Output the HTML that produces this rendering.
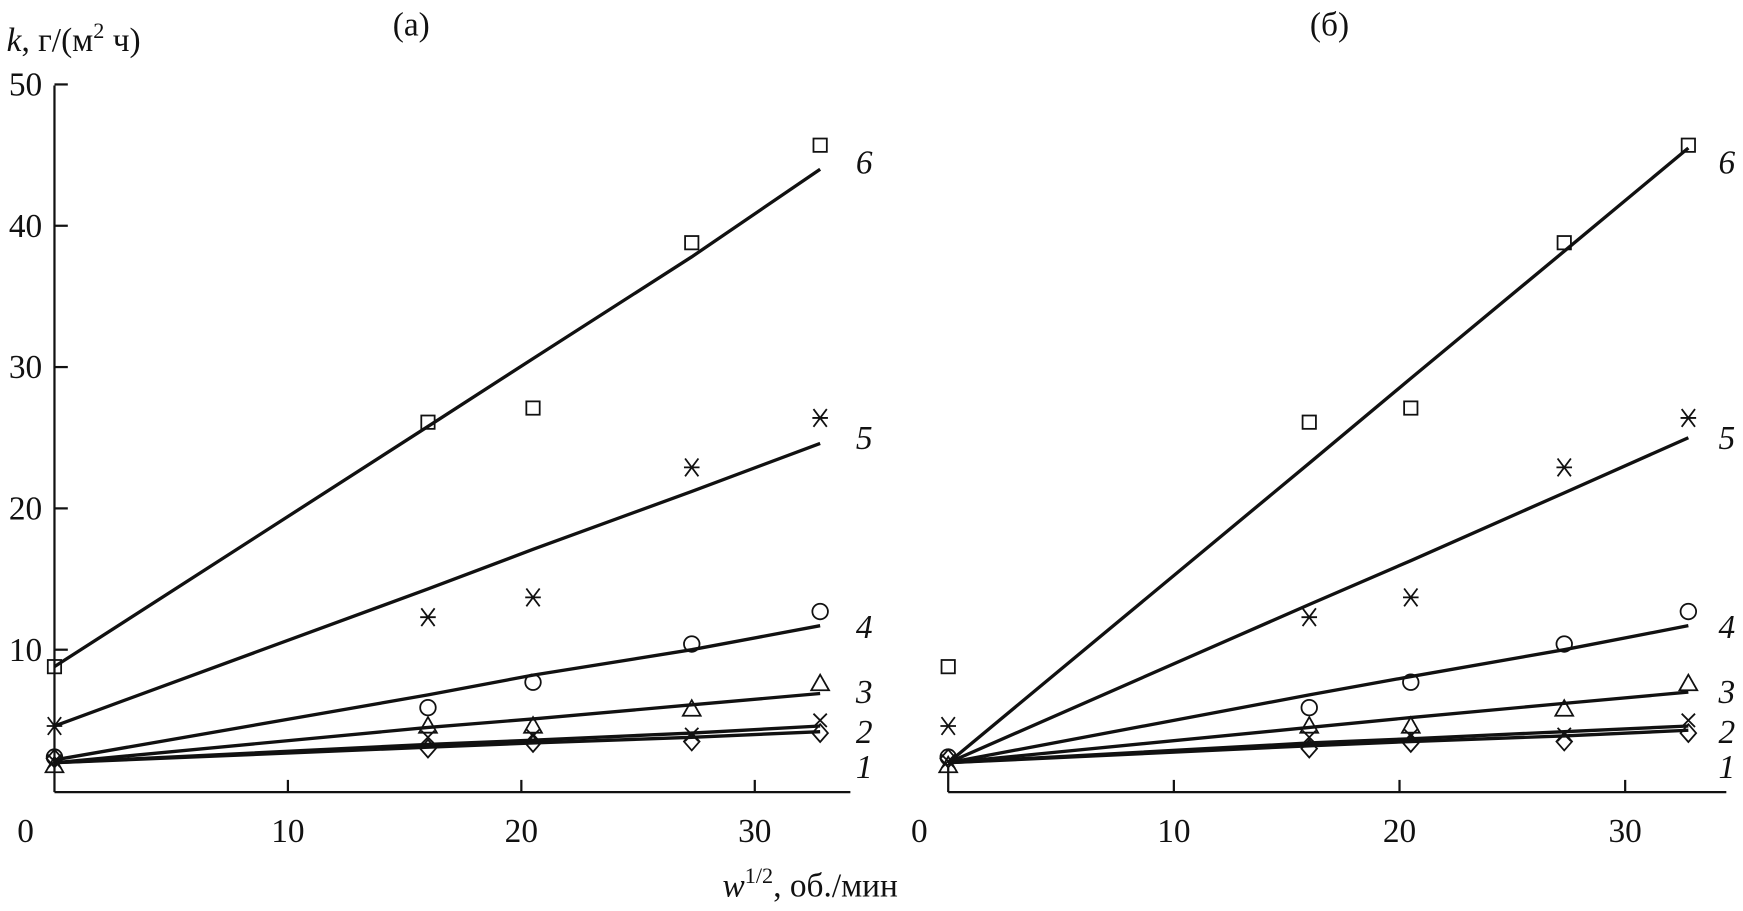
<!DOCTYPE html>
<html><head><meta charset="utf-8"><style>
html,body{margin:0;padding:0;background:#fff;}
svg{display:block;}
text{font-family:"Liberation Serif","DejaVu Serif",serif;fill:#111;}
</style></head><body>
<svg id="chart" width="1743" height="911" viewBox="0 0 1568 820" preserveAspectRatio="none" xmlns="http://www.w3.org/2000/svg">
<g id="root"></g>
</svg>
<script>
const xs = [0, 16, 20.5, 27.3, 32.8];
const s6 = [8.8, 26.1, 27.1, 38.8, 45.7];
const s5 = [4.6, 12.3, 13.7, 22.9, 26.4];
const s4 = [2.4, 5.9, 7.7, 10.4, 12.7];
const s3 = [1.8, 4.6, 4.6, 5.8, 7.6];
const s2 = [2.1, 3.8, 3.9, 4.0, 5.0];
const s1 = [2.3, 3.0, 3.4, 3.5, 4.1];
const fitA6 = [8.8, 25.8, 30.6, 37.8, 44.0];
const fitA5 = [4.6, 14.3, 17.1, 21.2, 24.6];
const fitA4 = [2.2, 6.8, 8.2, 10.0, 11.7];
const fitA3 = [2.0, 4.5, 5.1, 6.1, 6.9];
const fitA2 = [2.0, 3.3, 3.6, 4.1, 4.6];
const fitA1 = [2.0, 3.1, 3.4, 3.8, 4.2];
const fitB6 = [2.0, 23.2, 29.2, 38.2, 45.5];
const fitB5 = [2.0, 13.2, 16.3, 21.1, 25.0];
const fitB4 = [2.0, 6.8, 8.1, 10.0, 11.7];
const fitB3 = [2.0, 4.5, 5.2, 6.2, 7.0];
const fitB2 = [2.0, 3.4, 3.7, 4.2, 4.6];
const fitB1 = [2.0, 3.2, 3.5, 3.9, 4.3];
const xTicks = [0, 10, 20, 30];
const yTicks = [10, 20, 30, 40, 50];
const seriesNames = ['1','2','3','4','5','6'];

const NS = 'http://www.w3.org/2000/svg';
const root = document.getElementById('root');
function el(tag, attrs, parent, txt){
  const e = document.createElementNS(NS, tag);
  for (const k in attrs) e.setAttribute(k, attrs[k]);
  if (txt !== undefined) e.textContent = txt;
  (parent||root).appendChild(e);
  return e;
}
const yScale = v => 712 - v * 12.72;
const panels = [
  {id:'a', x0:49, ppu:21.0, xEnd:765, fits:[fitA1,fitA2,fitA3,fitA4,fitA5,fitA6], labelX:770, title:'(а)', titleX:370},
  {id:'b', x0:853, ppu:20.3, xEnd:1553, fits:[fitB1,fitB2,fitB3,fitB4,fitB5,fitB6], labelX:1546, title:'(б)', titleX:1196}
];
const data = [s1,s2,s3,s4,s5,s6];
const markers = ['diamond','cross','triangle','circle','star','square'];

function marker(type, cx, cy, g){
  const st = {fill:'none', stroke:'#111', 'stroke-width':1.6};
  let m;
  if (type==='square') m = el('rect', Object.assign({x:cx-6,y:cy-6,width:12,height:12}, st), g);
  else if (type==='circle') m = el('circle', Object.assign({cx:cx,cy:cy,r:7}, st), g);
  else if (type==='triangle') m = el('path', Object.assign({d:`M${cx} ${cy-8}L${cx+8} ${cy+6}L${cx-8} ${cy+6}Z`}, st), g);
  else if (type==='diamond') m = el('path', Object.assign({d:`M${cx} ${cy-8}L${cx+7} ${cy}L${cx} ${cy+8}L${cx-7} ${cy}Z`}, st), g);
  else if (type==='cross') m = el('path', Object.assign({d:`M${cx-6} ${cy-6}L${cx+6} ${cy+6}M${cx+6} ${cy-6}L${cx-6} ${cy+6}`}, st), g);
  else m = el('path', Object.assign({d:`M${cx-6} ${cy-8}L${cx+6} ${cy+8}M${cx+6} ${cy-8}L${cx-6} ${cy+8}M${cx-7} ${cy}L${cx+7} ${cy}`}, st), g);
  
  
}

panels.forEach(p => {
  const xS = v => p.x0 + v * p.ppu;
  const g = el('g', {});
  
  
  const t = el('text', {x:p.titleX, y:32, 'font-size':30, 'text-anchor':'middle'}, g, p.title);
  
  
  const xa = el('line', {x1:p.x0, y1:713, x2:p.xEnd, y2:713, stroke:'#111','stroke-width':2}, g);
  
  
  const ya = el('line', {x1:p.x0, y1:713, x2:p.x0, y2:(p.id==='a'?77:690), stroke:'#111','stroke-width':2}, g);
  
  
  xTicks.forEach(v => {
    if (v>0) el('line', {x1:xS(v), y1:713, x2:xS(v), y2:702, stroke:'#111','stroke-width':2}, g);
    const tl = el('text', {x:(v===0? p.x0-26 : xS(v)), y:758, 'font-size':30, 'text-anchor':'middle'}, g, String(v));
    
    
  });
  if (p.id==='a') yTicks.forEach(v => {
    el('line', {x1:p.x0, y1:yScale(v), x2:p.x0+12, y2:yScale(v), stroke:'#111','stroke-width':2}, g);
    const tl = el('text', {x:38, y:yScale(v)+10, 'font-size':30, 'text-anchor':'end'}, g, String(v));
    
    
  });
  p.fits.forEach((f, i) => {
    const d = f.map((v, j) => (j?'L':'M') + xS(xs[j]) + ' ' + yScale(v)).join('');
    const ln = el('path', {d:d, fill:'none', stroke:'#111', 'stroke-width':3}, g);
    
    
  });
  data.forEach((s, i) => {
    s.forEach((v, j) => marker(markers[i], xS(xs[j]), yScale(v), g));
  });
  const ly = [yScale(1.7), yScale(4.2), yScale(7.0), yScale(11.6), yScale(25.0), yScale(44.5)];
  ly.forEach((y, i) => {
    const lb = el('text', {x:p.labelX, y:y+10, 'font-size':30, 'font-style':'italic'}, g, seriesNames[i]);
    
    
  });
});
const yt = el('text', {x:6, y:46, 'font-size':30}, root);


yt.innerHTML = '<tspan font-style="italic">k</tspan>, г/(м<tspan dy="-12" font-size="20">2</tspan><tspan dy="12"> ч)</tspan>';
const xt = el('text', {x:650, y:807, 'font-size':30}, root);


xt.innerHTML = '<tspan font-style="italic">w</tspan><tspan dy="-12" font-size="20">1/2</tspan><tspan dy="12">, об./мин</tspan>';
</script>
</body></html>
